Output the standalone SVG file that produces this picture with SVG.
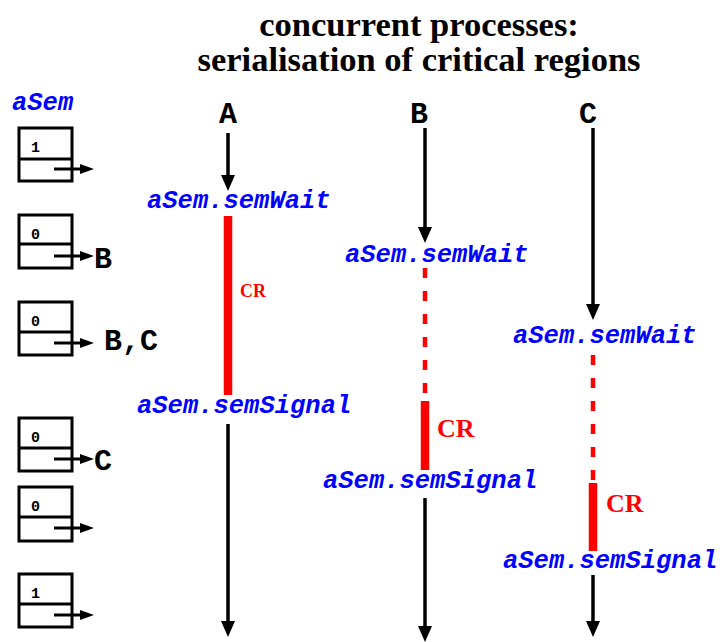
<svg xmlns="http://www.w3.org/2000/svg" width="722" height="642" viewBox="0 0 722 642">
<defs>
<marker id="ah" viewBox="0 0 16 14" refX="1" refY="7" markerWidth="16" markerHeight="14" markerUnits="userSpaceOnUse" orient="auto"><path d="M0,0 L16,7 L0,14 z" fill="#000"/></marker>
<marker id="ahs" viewBox="0 0 14 10" refX="1" refY="5" markerWidth="14" markerHeight="10" markerUnits="userSpaceOnUse" orient="auto"><path d="M0,0 L14,5 L0,10 z" fill="#000"/></marker>
</defs>
<style>
.title{font-family:"Liberation Serif",serif;font-weight:bold;font-size:34.5px;fill:#000}
.op{font-family:"Liberation Mono",monospace;font-weight:bold;font-style:italic;font-size:25.5px;fill:#0000ff}
.proc{font-family:"Liberation Mono",monospace;font-weight:bold;font-size:30px;fill:#000}
.q{font-family:"Liberation Mono",monospace;font-weight:bold;font-size:30px;fill:#000}
.val{font-family:"Liberation Mono",monospace;font-weight:bold;font-size:15px;fill:#000}
.box{fill:#fff;stroke:#000;stroke-width:3}
.flow{stroke:#000;stroke-width:3.5;fill:none;marker-end:url(#ah)}
.sflow{stroke:#000;stroke-width:3;fill:none;marker-end:url(#ahs)}
.cr{stroke:#ff0000;stroke-width:8.5;fill:none}
.wait{stroke:#ff0000;stroke-width:4.5;fill:none;stroke-dasharray:10 13}
.crl{font-family:"Liberation Serif",serif;font-weight:bold;fill:#ff0000}
</style>
<rect width="722" height="642" fill="#fff"/>
<text class="title" x="419" y="36" text-anchor="middle">concurrent processes:</text>
<text class="title" x="419" y="71" text-anchor="middle">serialisation of critical regions</text>
<text class="op" x="12" y="110">aSem</text>
<g id="sem1"><rect class="box" x="19" y="128" width="53" height="53"/><line x1="19" y1="159" x2="72" y2="159" stroke="#000" stroke-width="3"/><text class="val" x="31" y="152">1</text><line class="sflow" x1="54" y1="169" x2="81" y2="169"/></g>
<g id="sem2"><rect class="box" x="19" y="215" width="53" height="53"/><line x1="19" y1="244" x2="72" y2="244" stroke="#000" stroke-width="3"/><text class="val" x="31" y="239">0</text><line class="sflow" x1="54" y1="256" x2="81" y2="256"/><text class="q" x="94" y="268">B</text></g>
<g id="sem3"><rect class="box" x="19" y="302" width="53" height="53"/><line x1="19" y1="332" x2="72" y2="332" stroke="#000" stroke-width="3"/><text class="val" x="31" y="326">0</text><line class="sflow" x1="54" y1="343" x2="81" y2="343"/><text class="q" x="104" y="350">B,C</text></g>
<g id="sem4"><rect class="box" x="19" y="418" width="53" height="53"/><line x1="19" y1="448" x2="72" y2="448" stroke="#000" stroke-width="3"/><text class="val" x="31" y="442">0</text><line class="sflow" x1="54" y1="459" x2="81" y2="459"/><text class="q" x="94" y="470">C</text></g>
<g id="sem5"><rect class="box" x="19" y="487" width="53" height="54"/><line x1="19" y1="517" x2="72" y2="517" stroke="#000" stroke-width="3"/><text class="val" x="31" y="511">0</text><line class="sflow" x1="54" y1="528" x2="81" y2="528"/></g>
<g id="sem6"><rect class="box" x="19" y="574" width="53" height="53"/><line x1="19" y1="604" x2="72" y2="604" stroke="#000" stroke-width="3"/><text class="val" x="31" y="598">1</text><line class="sflow" x1="54" y1="615" x2="81" y2="615"/></g>
<g id="procA">
<text class="proc" x="228" y="123" text-anchor="middle">A</text>
<text class="op" x="147" y="208">aSem.semWait</text>
<line class="cr" x1="228" y1="216" x2="228" y2="395"/>
<text class="crl" x="240" y="297" font-size="18">CR</text>
<text class="op" x="137" y="413">aSem.semSignal</text>
</g>
<g id="procB">
<text class="proc" x="419" y="123" text-anchor="middle">B</text>
<text class="op" x="345" y="262">aSem.semWait</text>
<line class="wait" x1="425" y1="268" x2="425" y2="395"/>
<line class="cr" x1="425" y1="401" x2="425" y2="470"/>
<text class="crl" x="437" y="437" font-size="26">CR</text>
<text class="op" x="323" y="488">aSem.semSignal</text>
</g>
<g id="procC">
<text class="proc" x="588" y="123" text-anchor="middle">C</text>
<text class="op" x="513" y="343">aSem.semWait</text>
<line class="wait" x1="593" y1="355" x2="593" y2="482"/>
<line class="cr" x1="593" y1="483" x2="593" y2="551"/>
<text class="crl" x="606" y="512" font-size="26">CR</text>
<text class="op" x="503" y="568">aSem.semSignal</text>
</g>
<g id="connectors">
<line class="flow" x1="228" y1="133" x2="228" y2="176"/>
<line class="flow" x1="228" y1="424" x2="228" y2="622"/>
<line class="flow" x1="425" y1="128" x2="425" y2="228"/>
<line class="flow" x1="425" y1="498" x2="425" y2="627"/>
<line class="flow" x1="593" y1="128" x2="593" y2="305"/>
<line class="flow" x1="593" y1="575" x2="593" y2="622"/>
</g>
</svg>
